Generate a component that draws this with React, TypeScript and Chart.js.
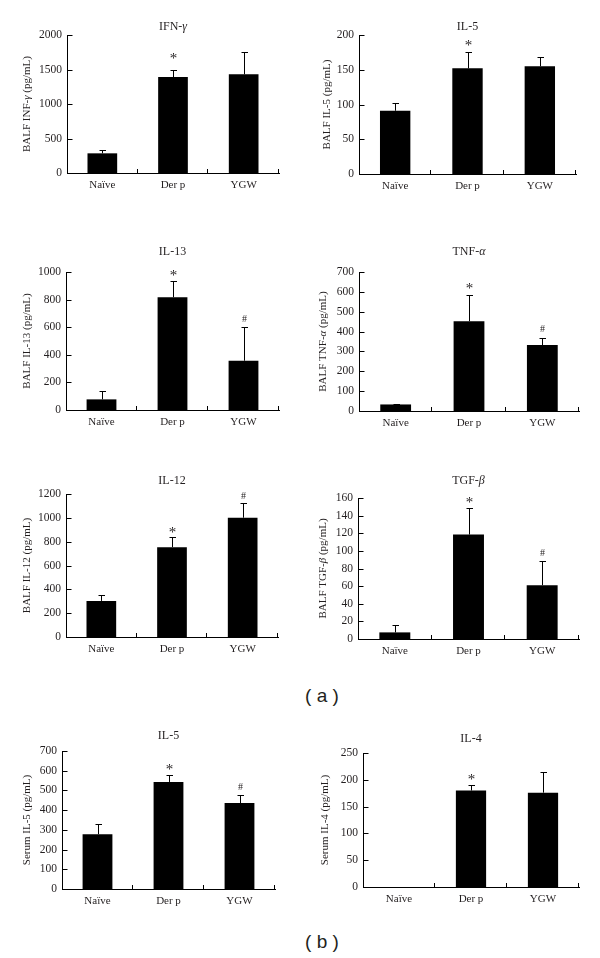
import React, { useEffect, useRef } from "react";
import { Chart, registerables } from "chart.js";

Chart.register(...registerables);

// ---------- data ----------
const categories = ["Naïve", "Der p", "YGW"];

const balfIfnMean = [285, 1390, 1430];
const balfIfnErr = [50, 110, 325];
const balfIfnMarks = ["", "*", ""];

const balfIl5Mean = [91, 152, 155];
const balfIl5Err = [11, 23, 13];
const balfIl5Marks = ["", "*", ""];

const balfIl13Mean = [77, 817, 357];
const balfIl13Err = [60, 116, 243];
const balfIl13Marks = ["", "*", "#"];

const balfTnfMean = [33, 452, 332];
const balfTnfErr = [3, 130, 37];
const balfTnfMarks = ["", "*", "#"];

const balfIl12Mean = [303, 754, 1001];
const balfIl12Err = [50, 82, 120];
const balfIl12Marks = ["", "*", "#"];

const balfTgfMean = [7.5, 118.5, 61];
const balfTgfErr = [8.3, 30.2, 27.3];
const balfTgfMarks = ["", "*", "#"];

const serumIl5Mean = [278, 543, 436];
const serumIl5Err = [52, 35, 39];
const serumIl5Marks = ["", "*", "#"];

const serumIl4Mean = [0, 180, 176];
const serumIl4Err = [0, 11, 38];
const serumIl4Marks = ["", "*", ""];

// ---------- style ----------
const TEXT = "#231f20";
const SERIF = '"Liberation Serif", "Times New Roman", serif';
const SANS = '"Liberation Sans", Arial, sans-serif';
const PL = 60;
const PT = 30;
const PR = 10;
const PB = 25;

type PanelCfg = {
  title: string;
  yTitle: string;
  mean: number[];
  err: number[];
  marks: string[];
  max: number;
  step: number;
  box: [number, number, number, number];
  titleGap: number;
  yTitleGap: number;
  markGap: number;
};

const panels: PanelCfg[] = [
  { title: "IFN-γ", yTitle: "BALF INF-γ (pg/mL)", mean: balfIfnMean, err: balfIfnErr, marks: balfIfnMarks, max: 2000, step: 500, box: [67, 35, 279, 173], titleGap: 8, yTitleGap: 40, markGap: 14 },
  { title: "IL-5", yTitle: "BALF IL-5 (pg/mL)", mean: balfIl5Mean, err: balfIl5Err, marks: balfIl5Marks, max: 200, step: 50, box: [359, 35, 576, 174], titleGap: 8, yTitleGap: 32, markGap: 9 },
  { title: "IL-13", yTitle: "BALF IL-13 (pg/mL)", mean: balfIl13Mean, err: balfIl13Err, marks: balfIl13Marks, max: 1000, step: 200, box: [66, 272, 279, 410], titleGap: 20, yTitleGap: 39, markGap: 8 },
  { title: "TNF-α", yTitle: "BALF TNF-α (pg/mL)", mean: balfTnfMean, err: balfTnfErr, marks: balfTnfMarks, max: 700, step: 100, box: [359, 272, 579, 411], titleGap: 20, yTitleGap: 36, markGap: 9 },
  { title: "IL-12", yTitle: "BALF IL-12 (pg/mL)", mean: balfIl12Mean, err: balfIl12Err, marks: balfIl12Marks, max: 1200, step: 200, box: [66, 494, 278, 637], titleGap: 13, yTitleGap: 39, markGap: 7 },
  { title: "TGF-β", yTitle: "BALF TGF-β (pg/mL)", mean: balfTgfMean, err: balfTgfErr, marks: balfTgfMarks, max: 160, step: 20, box: [358, 498, 579, 639], titleGap: 17, yTitleGap: 35, markGap: 8 },
  { title: "IL-5", yTitle: "Serum IL-5 (pg/mL)", mean: serumIl5Mean, err: serumIl5Err, marks: serumIl5Marks, max: 700, step: 100, box: [62, 751, 275, 889], titleGap: 15, yTitleGap: 35, markGap: 8 },
  { title: "IL-4", yTitle: "Serum IL-4 (pg/mL)", mean: serumIl4Mean, err: serumIl4Err, marks: serumIl4Marks, max: 250, step: 50, box: [363, 753, 579, 887], titleGap: 14, yTitleGap: 38, markGap: 8 },
];

function drawMixed(ctx: CanvasRenderingContext2D, text: string, cx: number, cy: number, size: number) {
  const runs: { s: string; it: boolean }[] = [];
  for (const ch of text) {
    const it = /[\u0370-\u03FF]/.test(ch);
    if (runs.length && runs[runs.length - 1].it === it) runs[runs.length - 1].s += ch;
    else runs.push({ s: ch, it });
  }
  let total = 0;
  const widths: number[] = [];
  for (const r of runs) {
    ctx.font = `${r.it ? "italic " : ""}${size}px ${SERIF}`;
    const w = ctx.measureText(r.s).width;
    widths.push(w);
    total += w;
  }
  let x = cx - total / 2;
  ctx.textAlign = "left";
  ctx.textBaseline = "middle";
  runs.forEach((r, i) => {
    ctx.font = `${r.it ? "italic " : ""}${size}px ${SERIF}`;
    ctx.fillText(r.s, x, cy);
    x += widths[i];
  });
}

function Panel({ cfg }: { cfg: PanelCfg }) {
  const ref = useRef<HTMLCanvasElement | null>(null);
  const [L, T, R, B] = cfg.box;
  const width = R - L + PL + PR;
  const height = B - T + PT + PB;

  useEffect(() => {
    if (!ref.current) return;
    const line = (ctx: CanvasRenderingContext2D, x1: number, y1: number, x2: number, y2: number) => {
      ctx.beginPath();
      ctx.moveTo(x1, y1);
      ctx.lineTo(x2, y2);
      ctx.stroke();
    };
    const decor = {
      id: "decor",
      afterDraw(chart: any) {
        const ctx: CanvasRenderingContext2D = chart.ctx;
        const { left, top, right, bottom } = chart.chartArea;
        const ys = chart.scales.y;
        ctx.save();
        ctx.strokeStyle = "#000";
        ctx.lineWidth = 1;
        const lx = Math.round(left) + 0.5;
        // inward y ticks
        ys.ticks.forEach((t: any) => {
          if (t.value === 0) return;
          const py = Math.round(ys.getPixelForValue(t.value)) + 0.5;
          line(ctx, lx, py, lx + 5, py);
        });
        // inward x ticks at category boundaries
        const n = categories.length;
        for (let i = 1; i <= n; i++) {
          const px = Math.round(left + ((right - left) * i) / n) - 0.5;
          line(ctx, px, bottom, px, bottom - 4);
        }
        // error bars and markers
        const meta = chart.getDatasetMeta(0);
        ctx.fillStyle = TEXT;
        meta.data.forEach((bar: any, i: number) => {
          const cx = Math.round(bar.x) + 0.5;
          const yTop = ys.getPixelForValue(cfg.mean[i]);
          const yErr = Math.round(ys.getPixelForValue(cfg.mean[i] + cfg.err[i])) + 0.5;
          if (cfg.err[i] > 0) {
            line(ctx, cx, yTop, cx, yErr);
            line(ctx, cx - 3, yErr, cx + 3.5, yErr);
          }
          const m = cfg.marks[i];
          if (m) {
            ctx.textAlign = "center";
            ctx.textBaseline = "middle";
            if (m === "*") {
              ctx.font = `15px ${SERIF}`;
              ctx.fillText(m, cx, yErr - cfg.markGap + 3);
            } else {
              ctx.font = `10px ${SERIF}`;
              ctx.fillText(m, cx, yErr - cfg.markGap);
            }
          }
        });
        // title
        ctx.fillStyle = TEXT;
        drawMixed(ctx, cfg.title, (left + right) / 2, top - cfg.titleGap, 12);
        // y title
        ctx.save();
        ctx.translate(left - cfg.yTitleGap, (top + bottom) / 2);
        ctx.rotate(-Math.PI / 2);
        drawMixed(ctx, cfg.yTitle, 0, 0, 11);
        ctx.restore();
        ctx.restore();
      },
    };

    const chart = new Chart(ref.current, {
      type: "bar",
      data: {
        labels: categories,
        datasets: [
          {
            data: cfg.mean,
            backgroundColor: "#000",
            borderWidth: 0,
            barPercentage: 0.42,
            categoryPercentage: 1,
          },
        ],
      },
      options: {
        responsive: false,
        animation: false,
        devicePixelRatio: 1,
        layout: { padding: { left: 0, top: PT, right: PR, bottom: 0 } },
        plugins: {
          legend: { display: false },
          tooltip: { enabled: false },
          title: { display: false },
        },
        scales: {
          x: {
            grid: { display: false, drawTicks: false },
            border: { display: true, color: "#000", width: 1 },
            ticks: { color: TEXT, font: { family: SERIF, size: 11 }, padding: 6 },
            afterFit: (s: any) => {
              s.height = PB;
            },
          },
          y: {
            min: 0,
            max: cfg.max,
            grid: { display: false, drawTicks: false },
            border: { display: true, color: "#000", width: 1 },
            ticks: {
              stepSize: cfg.step,
              color: TEXT,
              font: { family: SERIF, size: 11.5 },
              padding: 5,
              autoSkip: false,
              callback: (v: any) => String(v),
            },
            afterFit: (s: any) => {
              s.width = PL;
            },
          },
        },
      } as any,
      plugins: [decor],
    });
    return () => chart.destroy();
  }, []);

  return (
    <canvas
      ref={ref}
      width={width}
      height={height}
      style={{ position: "absolute", left: L - PL, top: T - PT, width, height }}
    />
  );
}

export default function App() {
  return (
    <div style={{ position: "absolute", left: 0, top: 0, width: 600, height: 958, background: "#fff" }}>
      {panels.map((p, i) => (
        <Panel key={i} cfg={p} />
      ))}
      <div
        style={{
          position: "absolute",
          left: 222,
          width: 200,
          top: 684,
          textAlign: "center",
          font: `19px ${SANS}`,
          color: TEXT,
          lineHeight: "24px",
          whiteSpace: "pre",
        }}
      >
        {"( a )"}
      </div>
      <div
        style={{
          position: "absolute",
          left: 222,
          width: 200,
          top: 930,
          textAlign: "center",
          font: `19px ${SANS}`,
          color: TEXT,
          lineHeight: "24px",
          whiteSpace: "pre",
        }}
      >
        {"( b )"}
      </div>
    </div>
  );
}
